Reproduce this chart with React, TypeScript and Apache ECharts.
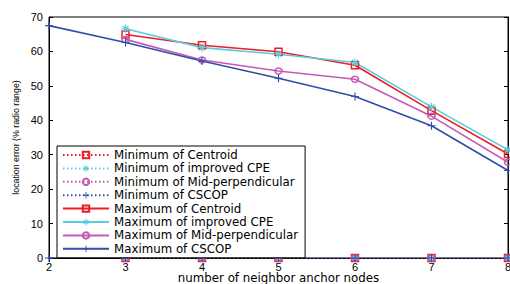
import React, { useEffect, useRef } from "react";
import * as echarts from "echarts";

const xTicks = [2, 3, 4, 5, 6, 7, 8];
const minCentroid: [number, number][] = [[3, 0], [4, 0], [5, 0], [6, 0], [7, 0], [8, 0]];
const minCPE: [number, number][] = [[3, 0], [4, 0], [5, 0], [6, 0], [7, 0], [8, 0]];
const minMid: [number, number][] = [[3, 0], [4, 0], [5, 0], [6, 0], [7, 0], [8, 0]];
const minCSCOP: [number, number][] = [[2, 0], [3, 0], [4, 0], [5, 0], [6, 0], [7, 0], [8, 0]];
const maxCentroid: [number, number][] = [[3, 64.9], [4, 61.8], [5, 59.9], [6, 56.0], [7, 42.8], [8, 30.2]];
const maxCPE: [number, number][] = [[3, 66.6], [4, 61.1], [5, 59.2], [6, 56.8], [7, 43.9], [8, 31.4]];
const maxMid: [number, number][] = [[3, 63.5], [4, 57.5], [5, 54.3], [6, 51.9], [7, 41.2], [8, 27.8]];
const maxCSCOP: [number, number][] = [[2, 67.5], [3, 62.6], [4, 57.2], [5, 52.2], [6, 46.9], [7, 38.4], [8, 25.4]];

const RED = "#ee1c24";
const CYAN = "#5ccbe0";
const MAG = "#c35bb5";
const BLUE = "#2f4ea8";

const PLUS = "path://M4.3,0H5.7V4.3H10V5.7H5.7V10H4.3V5.7H0V4.3H4.3Z";
const ASTER =
  "path://M4.3,0H5.7V3.3L8.4,1.1L9.3,2.2L6.6,4.3H10V5.7H6.6L9.3,7.8L8.4,8.9L5.7,6.7V10H4.3V6.7L1.6,8.9L0.7,7.8L3.4,5.7H0V4.3H3.4L0.7,2.2L1.6,1.1L4.3,3.3Z";

export default function App() {
  const ref = useRef<HTMLDivElement>(null);
  useEffect(() => {
    if (!ref.current) return;
    const chart = echarts.init(ref.current, null, { renderer: "svg" });
    const font = "Liberation Sans";
    const lfont = "DejaVu Sans";
    const mk = (
      name: string,
      data: [number, number][],
      color: string,
      symbol: string,
      size: number | number[],
      dotted: boolean,
      filled: boolean
    ) => ({
      name,
      type: "line",
      data,
      symbol,
      symbolSize: size,
      showSymbol: true,
      lineStyle: { color, width: dotted ? 1.2 : 1.6, type: dotted ? [1.5, 2.5] : "solid" },
      itemStyle: filled
        ? { color, borderColor: color, borderWidth: 0 }
        : { color: "rgba(255,255,255,0)", borderColor: color, borderWidth: 1.5 },
      emphasis: { disabled: true },
    });
    chart.setOption({
      animation: false,
      textStyle: { fontFamily: font },
      grid: {
        left: 49,
        right: 2,
        top: 17,
        bottom: 26,
        show: true,
        borderColor: "#000",
        borderWidth: 1,
        outerBoundsMode: "none",
        containLabel: false,
      },
      xAxis: [
        {
          type: "value",
          min: 2,
          max: 8,
          interval: 1,
          position: "bottom",
          name: "number of neighbor anchor nodes",
          nameLocation: "middle",
          nameGap: 14,
          nameMoveOverlap: false,
          nameTextStyle: { fontSize: 11.8, color: "#000", fontFamily: lfont },
          axisLine: { show: true, lineStyle: { color: "#000" } },
          axisTick: { inside: true, length: 4, lineStyle: { color: "#000" } },
          axisLabel: { fontSize: 11, color: "#000", margin: 3, fontFamily: font },
          splitLine: { show: false },
        },
        {
          type: "value",
          min: 2,
          max: 8,
          interval: 1,
          position: "top",
          axisLine: { show: true, lineStyle: { color: "#000" } },
          axisTick: { inside: true, length: 4, lineStyle: { color: "#000" } },
          axisLabel: { show: false },
          splitLine: { show: false },
        },
      ],
      yAxis: [
        {
          type: "value",
          min: 0,
          max: 70,
          interval: 10,
          position: "left",
          name: "location error (% radio range)",
          nameLocation: "middle",
          nameGap: 29,
          nameMoveOverlap: false,
          nameTextStyle: { fontSize: 8.8, color: "#000", fontFamily: font },
          axisLine: { show: true, lineStyle: { color: "#000" } },
          axisTick: { inside: true, length: 4, lineStyle: { color: "#000" } },
          axisLabel: { fontSize: 11, color: "#000", margin: 6, fontFamily: font },
          splitLine: { show: false },
        },
        {
          type: "value",
          min: 0,
          max: 70,
          interval: 10,
          position: "right",
          axisLine: { show: true, lineStyle: { color: "#000" } },
          axisTick: { inside: true, length: 4, lineStyle: { color: "#000" } },
          axisLabel: { show: false },
          splitLine: { show: false },
        },
      ],
      legend: {
        orient: "vertical",
        left: 57,
        top: 146,
        padding: [3, 7, 3, 5],
        itemWidth: 46,
        itemHeight: 8,
        itemGap: 1.4,
        backgroundColor: "#fff",
        borderColor: "#000",
        borderWidth: 1,
        borderRadius: 0,
        textStyle: { fontSize: 11.8, color: "#000", fontFamily: lfont },
        data: [
          "Minimum of Centroid",
          "Minimum of improved CPE",
          "Minimum of Mid-perpendicular",
          "Minimum of CSCOP",
          "Maximum of Centroid",
          "Maximum of improved CPE",
          "Maximum of Mid-perpendicular",
          "Maximum of CSCOP",
        ],
      },
      series: [
        mk("Minimum of Centroid", minCentroid, RED, "rect", 7, true, false),
        mk("Minimum of improved CPE", minCPE, CYAN, ASTER, 8, true, true),
        mk("Minimum of Mid-perpendicular", minMid, MAG, "circle", [7, 6], true, false),
        mk("Minimum of CSCOP", minCSCOP, BLUE, PLUS, 8, true, true),
        mk("Maximum of Centroid", maxCentroid, RED, "rect", 7, false, false),
        mk("Maximum of improved CPE", maxCPE, CYAN, ASTER, 8, false, true),
        mk("Maximum of Mid-perpendicular", maxMid, MAG, "circle", [7, 6], false, false),
        mk("Maximum of CSCOP", maxCSCOP, BLUE, PLUS, 8, false, true),
      ],
    });
    return () => chart.dispose();
  }, []);
  return <div ref={ref} style={{ width: 510, height: 284, position: "absolute", left: 0, top: 0 }} />;
}
